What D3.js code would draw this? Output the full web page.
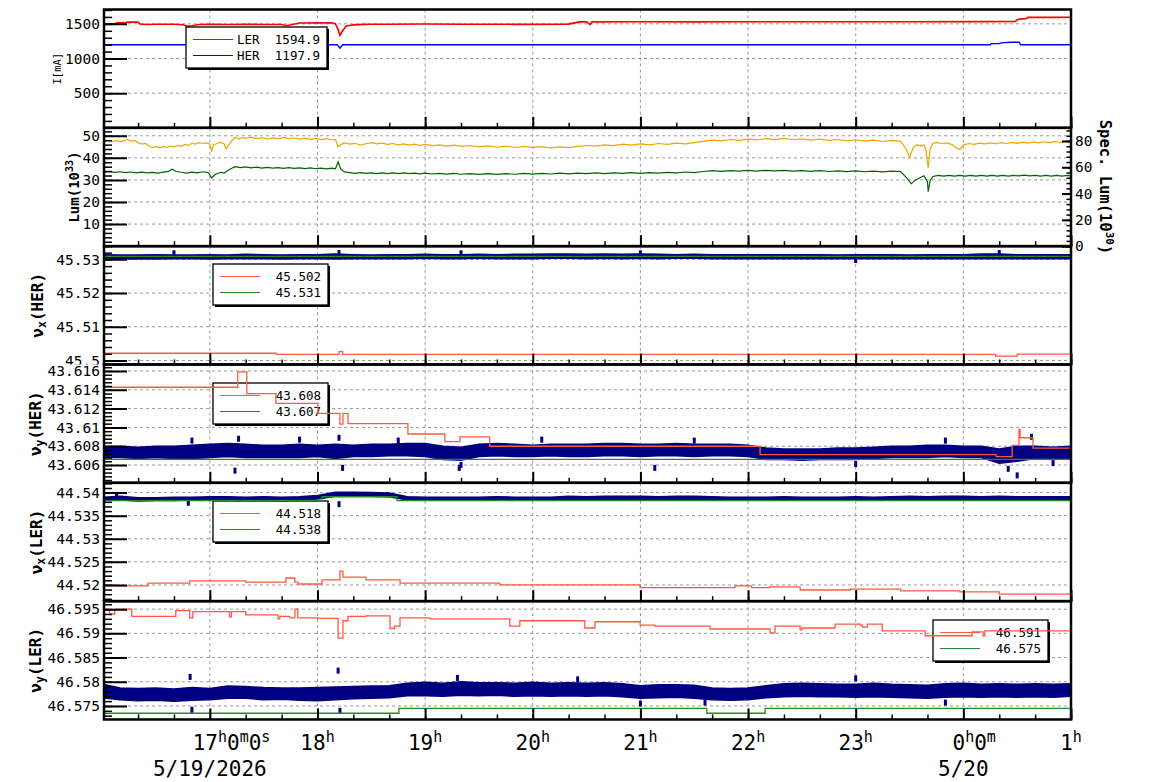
<!DOCTYPE html>
<html>
<head>
<meta charset="utf-8">
<script src="https://cdn.jsdelivr.net/npm/d3@7"></script>
<style>
  body { margin: 0; background: #fff; }
  svg { display: block; font-family: "DejaVu Sans Mono", monospace; }
</style>
</head>
<body>
<div id="chart"></div>
<script>
// ---- data (time = minutes after 16:00 on 5/19/2026) ----
const binMin = [0,10,20,30,40,50,60,70,80,90,100,110,120,130,140,150,160,170,180,190,
  200,210,220,230,240,250,260,270,280,290,300,310,320,330,340,350,360,370,380,390,
  400,410,420,430,440,450,460,470,480,490,500,510,520,530,540];

// beam currents [min, mA]
const lerCur = [[1,1497],[7,1500],[8,1515],[13,1515],[14,1525],[20,1525],[21,1498],[25,1490],[30,1494],[40,1495],
  [45,1488],[47,1470],[50,1472],[54,1490],[60,1492],[70,1490],[80,1493],[90,1491],[100,1490],[103,1472],[106,1490],
  [110,1512],[120,1514],[128,1515],[130,1500],[131.5,1420],[132.5,1335],[134,1400],[136,1470],[140,1485],[146,1492],
  [150,1495],[160,1494],[180,1497],[200,1495],[230,1493],[260,1496],[266,1528],[270,1530],[272,1490],[273,1528],
  [300,1530],[330,1529],[360,1530],[400,1531],[450,1531],[490,1532],[509,1533],[510,1558],[512,1572],[515,1575],
  [516,1594],[530,1594],[540,1595]];
const herCur = [[1,1197.9],[131,1197.9],[132.5,1150],[134,1197.9],[495,1197.9],[495.5,1215],[500,1215],[501,1225],
  [506,1235],[511,1235],[512,1197.9],[540,1197.9]];
const curLegend = [["LER", "1594.9"], ["HER", "1197.9"]];

// luminosity [min, 1e33]
const lum = [[1,47.2],[3,47.9],[5,47.3],[8,47.8],[11,47.4],[14,48.4],[16,47.6],[18,47.9],[20,46.9],[22,46.2],[24,46.6],
  [26,45.4],[28,44.6],[30,45.2],[32,44.5],[34,45.1],[36,44.7],[38,45.3],[40,44.9],[42,45.6],[44,45.2],[46,46.1],[48,45.7],
  [50,46.6],[52,46.2],[54,46.9],[56,46.5],[58,46.8],[60,46.2],[61,42.8],[62,45.8],[64,46.5],[66,47.1],[68,46.3],[69,44],
  [70,45.2],[72,47.5],[74,49.3],[76,48.6],[78,49.2],[80,48.8],[83,49.4],[86,48.7],[89,49.2],[92,48.5],[95,49],[98,48.6],
  [101,49.3],[104,48.7],[107,49],[110,48.5],[113,48.9],[116,48.4],[119,48.8],[122,48.3],[125,48.7],[128,48.1],[130,48.4],
  [131.5,45],[133,46],[135,46.8],[138,46.2],[141,46.6],[144,45.8],[147,46.4],[150,46.9],[153,46.3],[156,46.7],[159,46.1],
  [162,46.5],[165,45.9],[168,46.3],[171,45.8],[174,46.2],[177,45.6],[180,46.1],[184,45.5],[188,45.9],[192,45.3],[196,45.8],
  [200,45.2],[205,45.6],[210,45],[215,45.4],[220,44.8],[225,45.3],[230,44.7],[235,45.2],[240,44.6],[245,45.1],[250,44.5],
  [255,45],[260,44.6],[265,45.2],[270,45.6],[275,45.3],[280,45.9],[285,45.5],[290,46.2],[295,45.8],[300,46.3],[305,45.9],
  [310,46.5],[315,46.1],[320,46.7],[325,46.3],[330,46.9],[335,47.5],[340,48],[345,47.7],[350,48.3],[355,47.9],[360,48.5],
  [365,48.1],[370,48.7],[375,48.3],[380,48.8],[385,48.2],[390,48.6],[395,48],[400,48.5],[405,47.9],[410,48.3],[415,47.7],
  [420,48.2],[425,47.6],[430,48],[435,47.4],[440,47.9],[445,47.6],[448,44],[450,40.3],[452,44.5],[454,46],[456,45.3],
  [458,45.9],[459,44],[460.4,35.5],[461.5,44],[463,46.5],[465,47],[468,46.4],[471,46.8],[474,45.9],[476,44.5],[478,43.8],
  [480,45.8],[483,46.5],[486,46.1],[489,46.7],[492,46.3],[495,46.8],[498,46.4],[501,46.9],[504,46.5],[507,47],[510,46.6],
  [513,47.1],[516,46.7],[519,47.2],[522,46.8],[525,47.3],[528,46.9],[531,47.4],[534,47],[537,47.5],[540,47.2]];
// specific luminosity [min, 1e30]
const specLum = [[1,56.2],[4,56.8],[7,56.1],[10,56.6],[13,56],[16,56.4],[19,55.8],[22,56.3],[25,55.7],[28,56.1],[31,55.6],
  [34,56.3],[37,56.9],[39,58.5],[41,57],[44,56.2],[47,55.6],[50,56.3],[53,55.8],[56,56.6],[59,56],[61,52],[63,54.5],
  [66,56.2],[68,55.6],[70,57.5],[72,59],[74,60.5],[77,59.8],[80,60.3],[83,59.6],[86,60.1],[89,59.4],[92,59.9],[95,59.3],
  [98,59.8],[101,59.2],[104,59.7],[107,59.1],[110,59.6],[113,59],[116,59.5],[119,58.9],[122,59.4],[125,58.8],[128,59.3],
  [130,58.9],[131.5,64],[133,58.5],[135,56.5],[138,56],[141,55.4],[144,55.9],[147,55.3],[150,55.8],[153,55.2],[156,55.7],
  [159,55.1],[162,55.7],[165,55.2],[168,55.8],[171,55.1],[174,55.6],[177,55],[180,55.5],[184,54.9],[188,55.4],[192,54.8],
  [196,55.3],[200,54.7],[205,55.2],[210,54.6],[215,55.1],[220,54.6],[225,55.2],[230,54.7],[235,55.3],[240,54.8],[245,55.4],
  [250,54.9],[255,55.5],[260,55],[265,55.6],[270,55.1],[275,55.7],[280,55.2],[285,55.8],[290,55.3],[295,55.9],[300,55.4],
  [305,56],[310,55.5],[315,56.1],[320,55.7],[325,56.4],[330,56],[335,56.8],[340,57.4],[345,56.9],[350,57.5],[355,57],
  [360,57.6],[365,57.1],[370,57.7],[375,57.2],[380,57.6],[385,57],[390,57.5],[395,56.9],[400,57.4],[405,56.8],[410,57.3],
  [415,56.7],[420,57.2],[425,56.6],[430,57.1],[435,56.5],[440,57],[445,56.8],[448,52.5],[451,47.5],[453,50],[455,51.5],
  [458,53.5],[460,49],[460.4,41.5],[461.5,50],[463,53],[466,53.8],[469,53.2],[472,53.9],[475,53.3],[478,53.9],[481,53.2],
  [484,53.8],[487,53.2],[490,53.9],[493,53.3],[496,53.9],[499,53.2],[502,53.8],[505,53.3],[508,53.9],[511,53.4],[514,54],
  [517,53.4],[520,53.9],[523,53.3],[526,53.8],[529,53.2],[532,53.8],[535,53.3],[538,53.8],[540,53.5]];

// HER horizontal tune
const herNxSet = [[1,45.50214],[97,45.50184],[132,45.5026],[134,45.50184],[498,45.5013],[510,45.5019],[540,45.5019]];
const herNxRef = [[1,45.5309],[540,45.5309]];
const herNxLo = [45.5302,45.5301,45.5302,45.5301,45.5302,45.5302,45.5301,45.5302,45.5302,45.5302,
  45.5301,45.5302,45.5302,45.5301,45.5302,45.5302,45.5302,45.5302,45.5303,45.5302,
  45.5302,45.5303,45.5302,45.5302,45.5302,45.5303,45.5303,45.5302,45.5303,45.5302,
  45.5303,45.5302,45.5303,45.5303,45.5302,45.5302,45.5302,45.5302,45.5302,45.5302,
  45.5302,45.5302,45.5302,45.5302,45.5302,45.5302,45.5302,45.5302,45.5302,45.5302,
  45.5302,45.5302,45.5302,45.5302,45.5302];
const herNxHi = [45.5314,45.5313,45.5313,45.5314,45.5313,45.5313,45.5314,45.5313,45.5315,45.5314,
  45.5313,45.5314,45.5314,45.5316,45.5314,45.5313,45.5314,45.5314,45.5315,45.5314,
  45.5314,45.5315,45.5314,45.5315,45.5315,45.5316,45.5316,45.5315,45.5316,45.5315,
  45.5316,45.5315,45.5314,45.5315,45.5314,45.5314,45.5314,45.5314,45.5314,45.5314,
  45.5314,45.5313,45.5314,45.5314,45.5314,45.5313,45.5314,45.5314,45.5314,45.5316,
  45.5316,45.5314,45.5314,45.5314,45.5314];
const herNxOut = [[40,45.5318],[132,45.5319],[200,45.5318],[300,45.5318],[420,45.5298],[500,45.5319]];
const herNxLegend = ["45.502", "45.531"];

// HER vertical tune
const herNySet = [[1,43.61427],[75.6,43.6159],[80.6,43.6136],[96.8,43.61256],[120.2,43.6115],[132.5,43.61036],
  [134.2,43.6115],[137,43.6104],[170.4,43.6093],[191,43.6085],[199.4,43.609],[216,43.608],[366.7,43.6071],
  [498.3,43.6069],[507.2,43.6081],[511,43.6098],[511.6,43.6089],[518.8,43.6078],[540,43.6078]];
const herNyRef = [[1,43.6066],[540,43.6066]];
const herNyLo = [43.6068,43.6068,43.6067,43.6068,43.6067,43.6067,43.6068,43.6069,43.6068,43.6068,
  43.6068,43.6068,43.6069,43.6067,43.6069,43.6069,43.6070,43.6070,43.6069,43.6066,
  43.6065,43.6069,43.6070,43.6069,43.6069,43.6070,43.6069,43.6069,43.6070,43.6070,
  43.6069,43.6070,43.6070,43.6069,43.6070,43.6070,43.6069,43.6066,43.6066,43.6065,
  43.6066,43.6066,43.6066,43.6067,43.6068,43.6068,43.6068,43.6069,43.6068,43.6068,
  43.6062,43.6064,43.6067,43.6066,43.6067];
const herNyHi = [43.6080,43.6080,43.6079,43.6080,43.6080,43.6081,43.6082,43.6083,43.6082,43.6081,
  43.6081,43.6082,43.6081,43.6082,43.6081,43.6082,43.6082,43.6083,43.6083,43.6080,
  43.6079,43.6082,43.6083,43.6082,43.6081,43.6082,43.6082,43.6082,43.6083,43.6083,
  43.6082,43.6082,43.6083,43.6082,43.6082,43.6082,43.6081,43.6078,43.6077,43.6077,
  43.6077,43.6078,43.6078,43.6079,43.6080,43.6080,43.6081,43.6081,43.6080,43.6080,
  43.6077,43.6080,43.6080,43.6079,43.6080];
const herNyOut = [[50,43.6086],[74,43.6054],[76,43.6088],[110,43.6087],[132,43.6089],[134,43.6057],[165,43.6086],
  [199,43.6057],[200,43.606],[245,43.6087],[308,43.6057],[330,43.6086],[420,43.6061],[470,43.6086],[505,43.6056],
  [510,43.6049],[518,43.609],[530,43.6062]];
const herNyLegend = ["43.608", "43.607"];

// LER horizontal tune
const lerNxSet = [[1,44.52],[7,44.5198],[25.5,44.5204],[48.8,44.5209],[80,44.5206],[102.4,44.5215],[107.4,44.5206],
  [109,44.5202],[122.5,44.5211],[132.5,44.523],[134.2,44.5217],[147,44.5211],[166,44.5204],[221.6,44.52],
  [299.8,44.5194],[352.7,44.5198],[362,44.5194],[372,44.5196],[389,44.5189],[417,44.5191],[445,44.5187],
  [478,44.5185],[500,44.518],[540,44.518]];
const lerNxRef = [[1,44.53825],[122.5,44.5391],[164.3,44.53825],[540,44.53825]];
const lerNxLo = [44.5383,44.5384,44.5382,44.5383,44.5383,44.5384,44.5384,44.5384,44.5384,44.5384,
  44.5383,44.5384,44.5386,44.5392,44.5393,44.5392,44.5391,44.5384,44.5384,44.5384,
  44.5384,44.5384,44.5384,44.5384,44.5384,44.5384,44.5385,44.5385,44.5385,44.5385,
  44.5385,44.5384,44.5385,44.5385,44.5384,44.5384,44.5384,44.5384,44.5384,44.5384,
  44.5384,44.5384,44.5384,44.5384,44.5385,44.5385,44.5385,44.5385,44.5385,44.5385,
  44.5385,44.5385,44.5385,44.5385,44.5385];
const lerNxHi = [44.5390,44.5392,44.5389,44.5389,44.5390,44.5390,44.5391,44.5391,44.5390,44.5391,
  44.5390,44.5391,44.5394,44.5401,44.5401,44.5400,44.5399,44.5391,44.5390,44.5390,
  44.5390,44.5390,44.5391,44.5390,44.5390,44.5390,44.5392,44.5391,44.5392,44.5392,
  44.5392,44.5391,44.5392,44.5392,44.5391,44.5390,44.5390,44.5390,44.5391,44.5390,
  44.5390,44.5390,44.5391,44.5390,44.5391,44.5392,44.5391,44.5392,44.5392,44.5391,
  44.5392,44.5391,44.5391,44.5391,44.5391];
const lerNxOut = [[8,44.5394],[48,44.5378],[132,44.5375]];
const lerNxLegend = ["44.518", "44.538"];

// LER vertical tune
const lerNySet = [[1,46.595],[4,46.594],[7,46.595],[16.5,46.5935],[41,46.5947],[48.8,46.5932],[50.5,46.5945],
  [71,46.5934],[72,46.5945],[80,46.5938],[98,46.593],[99,46.5935],[104.6,46.5932],[107.4,46.595],[109,46.5932],
  [120.2,46.5931],[131.5,46.589],[134.2,46.5926],[137,46.5935],[147,46.5936],[160.4,46.591],[163,46.5915],
  [166,46.5932],[182.7,46.593],[227.2,46.5915],[232.8,46.5926],[269,46.5911],[274.7,46.5924],[299.8,46.5917],
  [308,46.5915],[338.8,46.5909],[372.3,46.5901],[375,46.5915],[389,46.5907],[390,46.5911],[408.5,46.5919],
  [422.5,46.5917],[423.7,46.5913],[426.5,46.5919],[434.8,46.5905],[458.7,46.5895],[484.9,46.5903],[491,46.5895],
  [492,46.5905],[540,46.5905]];
const lerNyRef = [[1,46.5735],[165.4,46.5745],[337,46.5735],[369.5,46.5745],[540,46.5745]];
const lerNyLo = [46.5767,46.5763,46.5761,46.5762,46.5760,46.5762,46.5763,46.5766,46.5766,46.5763,
  46.5764,46.5762,46.5761,46.5763,46.5765,46.5766,46.5767,46.5771,46.5771,46.5770,
  46.5772,46.5771,46.5772,46.5770,46.5771,46.5770,46.5771,46.5770,46.5771,46.5769,
  46.5766,46.5767,46.5768,46.5766,46.5763,46.5762,46.5763,46.5767,46.5769,46.5770,
  46.5769,46.5769,46.5768,46.5769,46.5768,46.5767,46.5766,46.5768,46.5769,46.5768,
  46.5769,46.5768,46.5769,46.5768,46.5770];
const lerNyHi = [46.5795,46.5787,46.5786,46.5787,46.5785,46.5788,46.5786,46.5791,46.5790,46.5788,
  46.5787,46.5787,46.5788,46.5789,46.5790,46.5791,46.5792,46.5797,46.5799,46.5797,
  46.5800,46.5798,46.5798,46.5797,46.5799,46.5797,46.5798,46.5797,46.5798,46.5796,
  46.5792,46.5794,46.5794,46.5793,46.5787,46.5786,46.5787,46.5792,46.5796,46.5797,
  46.5796,46.5795,46.5795,46.5797,46.5795,46.5794,46.5793,46.5796,46.5797,46.5795,
  46.5796,46.5795,46.5796,46.5795,46.5796];
const lerNyOut = [[49,46.581],[50,46.5742],[131.5,46.5823],[132.5,46.574],[198,46.5808],[265,46.5805],[300,46.5755],
  [336,46.5757],[420,46.5807],[470,46.5757]];
const lerNyLegend = ["46.591", "46.575"];

// axis tick labels
const curTicks = [500, 1000, 1500];
const lumTicks = [10, 20, 30, 40, 50];
const specTicks = [0, 20, 40, 60, 80];
const herNxTicks = [45.5, 45.51, 45.52, 45.53];
const herNyTicks = [43.606, 43.608, 43.61, 43.612, 43.614, 43.616];
const lerNxTicks = [44.52, 44.525, 44.53, 44.535, 44.54];
const lerNyTicks = [46.575, 46.58, 46.585, 46.59, 46.595];
const hourLabels = [["17","h","0","m","0","s"], ["18","h"], ["19","h"], ["20","h"], ["21","h"],
  ["22","h"], ["23","h"], ["0","h","0","m"], ["1","h"]];
const dateLabels = [[60, "5/19/2026"], [480, "5/20"]];

// ---- layout ----
const W = 1154, H = 782;
const left = 104, right = 1071, top0 = 9.5, panelH = 118.33;
const FONT = '"DejaVu Sans Mono", monospace';
const col = { ler: '#ff0000', her: '#0000ff', lum: '#f0a500', spec: '#006400',
  red: '#ff5a40', grn: '#228b22', navy: '#000080' };

const t0 = new Date(2026, 4, 19, 16, 0);
const at = m => new Date(+t0 + m * 60000);
const x = d3.scaleTime().domain([at(1), at(540)]).range([left, right]);

const svg = d3.select('#chart').append('svg').attr('width', W).attr('height', H);
const defs = svg.append('defs');

const zip = (lo, hi) => binMin.slice(0, Math.min(lo.length, hi.length)).map((m, i) => [m, lo[i], hi[i]]);

const panels = [
  { dom: [0, 1707], ticks: curTicks, minor: 100, legendOnTop: true,
    legend: { x: 186, y: 27, w: 141, rows: [[col.ler, curLegend[0][1], curLegend[0][0]], [col.her, curLegend[1][1], curLegend[1][0]]] },
    series: [{ type: 'line', data: lerCur, color: col.ler, w: 1.6 }, { type: 'line', data: herCur, color: col.her, w: 1.4 }],
    title: { parts: [["I[mA]", 'n']], size: 10.5, bold: false, x: 61 } },
  { dom: [0, 53.6], ticks: lumTicks, minor: 2,
    right: { dom: [0, 90], ticks: specTicks, minor: 4 },
    series: [{ type: 'line', data: lum, color: col.lum, w: 1.2 }, { type: 'line', data: specLum, color: col.spec, w: 1.2, axis: 'right' }],
    title: { parts: [["Lum(10", 'n'], ["33", 'sup'], [")", 'n']], size: 14, bold: true, x: 79 } },
  { dom: [45.49881, 45.53392], ticks: herNxTicks, minor: 0.002,
    legend: { x: 213, y: 264, w: 115, rows: [[col.red, herNxLegend[0]], [col.grn, herNxLegend[1]]] },
    series: [{ type: 'band', data: zip(herNxLo, herNxHi), out: herNxOut },
      { type: 'step', data: herNxRef, color: col.grn, w: 1.3 }, { type: 'step', data: herNxSet, color: col.red, w: 1.3 }],
    title: { parts: [["ν", 'n'], ["x", 'sub'], ["(HER)", 'n']], size: 16, bold: true, x: 43 } },
  { dom: [43.60411, 43.61669], ticks: herNyTicks, minor: 0.0004,
    legend: { x: 213, y: 383, w: 115, rows: [[col.red, herNyLegend[0]], [col.grn, herNyLegend[1]]] },
    series: [{ type: 'band', data: zip(herNyLo, herNyHi), out: herNyOut },
      { type: 'step', data: herNyRef, color: col.grn, w: 1.3 }, { type: 'step', data: herNySet, color: col.red, w: 1.3 }],
    title: { parts: [["ν", 'n'], ["y", 'sub'], ["(HER)", 'n']], size: 16, bold: true, x: 41 } },
  { dom: [44.51649, 44.54212], ticks: lerNxTicks, minor: 0.001,
    legend: { x: 213, y: 501, w: 115, rows: [[col.red, lerNxLegend[0]], [col.grn, lerNxLegend[1]]] },
    series: [{ type: 'band', data: zip(lerNxLo, lerNxHi), out: lerNxOut },
      { type: 'step', data: lerNxRef, color: col.grn, w: 1.3 }, { type: 'step', data: lerNxSet, color: col.red, w: 1.3 }],
    title: { parts: [["ν", 'n'], ["x", 'sub'], ["(LER)", 'n']], size: 16, bold: true, x: 42 } },
  { dom: [46.57221, 46.59665], ticks: lerNyTicks, minor: 0.001,
    legend: { x: 933, y: 620, w: 115, rows: [[col.red, lerNyLegend[0]], [col.grn, lerNyLegend[1]]] },
    series: [{ type: 'band', data: zip(lerNyLo, lerNyHi), out: lerNyOut },
      { type: 'step', data: lerNyRef, color: col.grn, w: 1.3 }, { type: 'step', data: lerNySet, color: col.red, w: 1.3 }],
    title: { parts: [["ν", 'n'], ["y", 'sub'], ["(LER)", 'n']], size: 16, bold: true, x: 41 } }
];

const hours = d3.timeHour.range(at(60), at(541));
const minors = d3.timeMinute.every(20).range(at(1), at(541));

function minorValues(dom, step) {
  const out = [];
  const i0 = Math.ceil(dom[0] / step - 1e-6), i1 = Math.floor(dom[1] / step + 1e-6);
  for (let i = i0; i <= i1; i++) out.push(i * step);
  return out;
}

function drawLegend(g, L) {
  const h = 41;
  g.append('rect').attr('x', L.x + 2).attr('y', L.y + 2).attr('width', L.w).attr('height', h).attr('fill', '#000');
  g.append('rect').attr('x', L.x).attr('y', L.y).attr('width', L.w).attr('height', h)
    .attr('fill', '#fff').attr('stroke', '#000').attr('stroke-width', 1.3);
  L.rows.forEach((r, k) => {
    const yy = L.y + 12.5 + k * 16;
    g.append('line').attr('x1', L.x + 7).attr('x2', L.x + 47).attr('y1', yy).attr('y2', yy)
      .attr('stroke', r[0]).attr('stroke-width', 1.2);
    g.append('text').attr('x', L.x + L.w - 7).attr('y', yy + 4.5).attr('text-anchor', 'end')
      .attr('font-size', 12.5).text(r[1]);
    if (r[2]) g.append('text').attr('x', L.x + 51).attr('y', yy + 4.5).attr('font-size', 12.5).text(r[2]);
  });
}

function styleAxis(g, sw, fs) {
  g.select('.domain').remove();
  g.attr('font-family', FONT).attr('font-size', fs || 14.5);
  g.selectAll('.tick line').attr('stroke', '#000').attr('stroke-width', sw);
  g.selectAll('.tick text').attr('fill', '#000');
}

panels.forEach((p, i) => {
  const top = top0 + i * panelH, bottom = top + panelH;
  const y = d3.scaleLinear().domain(p.dom).range([bottom, top]);
  const yR = p.right ? d3.scaleLinear().domain(p.right.dom).range([bottom, top]) : null;
  const g = svg.append('g');

  defs.append('clipPath').attr('id', 'plot' + i).append('rect')
    .attr('x', left).attr('y', top).attr('width', right - left).attr('height', panelH);
  defs.append('clipPath').attr('id', 'lab' + i).append('rect')
    .attr('x', 0).attr('y', top).attr('width', W).attr('height', panelH);

  // grid
  const grid = g.append('g').attr('stroke', '#9a9a9a').attr('stroke-dasharray', '3,3').attr('stroke-width', 1);
  grid.selectAll('.gv').data(hours).join('line')
    .attr('x1', d => x(d)).attr('x2', d => x(d)).attr('y1', top).attr('y2', bottom);
  grid.selectAll('.gh').data(p.ticks).join('line')
    .attr('x1', left).attr('x2', right).attr('y1', d => y(d)).attr('y2', d => y(d));

  const plot = g.append('g').attr('clip-path', `url(#plot${i})`);
  if (p.legend && !p.legendOnTop) drawLegend(g, p.legend);
  const plot2 = g.append('g').attr('clip-path', `url(#plot${i})`);

  p.series.forEach(s => {
    const sy = s.axis === 'right' ? yR : y;
    if (s.type === 'band') {
      const area = d3.area().x(d => x(at(d[0]))).y0(d => y(d[1])).y1(d => y(d[2]));
      plot2.append('path').datum(s.data).attr('d', area).attr('fill', col.navy)
        .attr('stroke', col.navy).attr('stroke-width', 1.5);
      plot2.selectAll(null).data(s.out).join('rect')
        .attr('x', d => x(at(d[0])) - 1.5).attr('y', d => y(d[1]) - 3)
        .attr('width', 3).attr('height', 6).attr('fill', col.navy);
    } else {
      const line = d3.line().x(d => x(at(d[0]))).y(d => sy(d[1]));
      if (s.type === 'step') line.curve(d3.curveStepAfter);
      (p.legendOnTop ? plot : plot2).append('path').datum(s.data).attr('d', line).attr('fill', 'none')
        .attr('stroke', s.color).attr('stroke-width', s.w);
    }
  });

  if (p.legend && p.legendOnTop) drawLegend(g, p.legend);

  // y axis (left)
  const labs = g.append('g').attr('clip-path', `url(#lab${i})`);
  const ax = labs.append('g').attr('transform', `translate(${left},0)`)
    .call(d3.axisLeft(y).tickValues(p.ticks).tickSize(-23).tickPadding(4).tickFormat(d => String(d)));
  styleAxis(ax, 2);
  const axm = g.append('g').attr('transform', `translate(${left},0)`)
    .call(d3.axisLeft(y).tickValues(minorValues(p.dom, p.minor)).tickSize(-8).tickFormat(''));
  styleAxis(axm, 1.5);

  // y axis (right)
  if (p.right) {
    const ar = g.append('g').attr('transform', `translate(${right},0)`)
      .call(d3.axisRight(yR).tickValues(p.right.ticks).tickSize(-9).tickPadding(4).tickFormat(d => String(d)));
    styleAxis(ar, 2);
    const arm = g.append('g').attr('transform', `translate(${right},0)`)
      .call(d3.axisRight(yR).tickValues(minorValues(p.right.dom, p.right.minor)).tickSize(-4.5).tickFormat(''));
    styleAxis(arm, 1.5);
  }

  // x ticks at panel bottom
  const xm = g.append('g').attr('transform', `translate(0,${bottom})`)
    .call(d3.axisBottom(x).tickValues(minors).tickSize(-5).tickFormat(''));
  styleAxis(xm, 1.5);
  const xM = g.append('g').attr('transform', `translate(0,${bottom})`)
    .call(d3.axisBottom(x).tickValues(hours).tickSize(-11).tickFormat(''));
  styleAxis(xM, 2);

  // frame
  g.append('rect').attr('x', left).attr('y', top).attr('width', right - left).attr('height', panelH)
    .attr('fill', 'none').attr('stroke', '#000').attr('stroke-width', 2.5);

  // y title
  const t = p.title;
  const tt = g.append('text')
    .attr('transform', `translate(${t.x},${(top + bottom) / 2}) rotate(-90)`)
    .attr('text-anchor', 'middle').attr('font-size', t.size)
    .attr('font-weight', t.bold ? 'bold' : 'normal');
  let shift = 0;
  t.parts.forEach(([s, kind]) => {
    const d = kind === 'sup' ? -6 : kind === 'sub' ? 3 : 0;
    tt.append('tspan').text(s).attr('dy', d - shift)
      .attr('font-size', kind === 'n' ? t.size : t.size * 0.72);
    shift = d;
  });

  if (p.right) {
    const rt = g.append('text')
      .attr('transform', `translate(1100,${(top + bottom) / 2}) rotate(90)`)
      .attr('text-anchor', 'middle').attr('font-size', 15.5).attr('font-weight', 'bold');
    rt.append('tspan').text('Spec. Lum(10');
    rt.append('tspan').text('30').attr('dy', -6).attr('font-size', 11);
    rt.append('tspan').text(')').attr('dy', 6);
  }
});

// time labels under the last panel
const gx = svg.append('g').attr('font-family', FONT);
hours.forEach((h, k) => {
  const parts = hourLabels[k];
  if (!parts) return;
  const t = gx.append('text').attr('y', 750).attr('font-size', 21);
  parts.forEach((s, j) => {
    const sup = j % 2 === 1;
    t.append('tspan').text(s).attr('font-size', sup ? 15 : 21).attr('dy', j === 0 ? 0 : (sup ? -8 : 8));
  });
  const sp = t.selectAll('tspan').nodes();
  const w = sp[0].getComputedTextLength() + sp[1].getComputedTextLength();
  t.attr('x', x(h) - w / 2);
});
gx.selectAll('.date').data(dateLabels).join('text')
  .attr('x', d => x(at(d[0]))).attr('y', 776).attr('text-anchor', 'middle')
  .attr('font-size', 21).text(d => d[1]);
</script>
</body>
</html>
